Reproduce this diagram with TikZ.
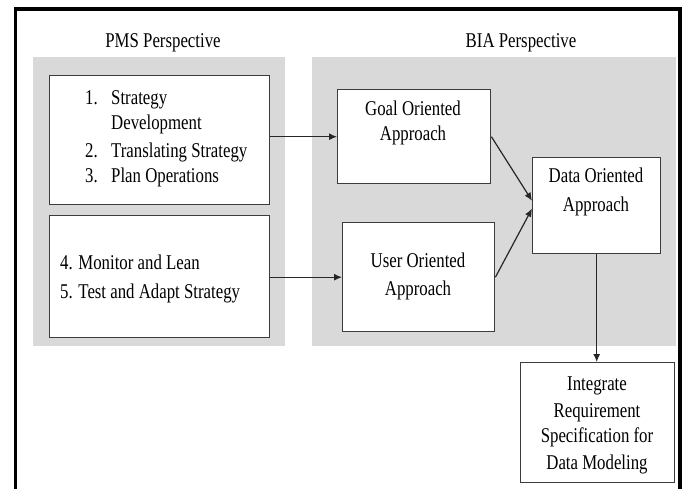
\documentclass[tikz,border=0pt]{standalone}
\usepackage{fontspec}
\setmainfont{Liberation Serif}[FakeStretch=0.8]
\usetikzlibrary{arrows.meta,calc}
\definecolor{panelgray}{RGB}{217,217,217}
\definecolor{boxline}{RGB}{60,60,60}
\tikzset{
  panel/.style={fill=panelgray, draw=none, anchor=north west, inner sep=0pt},
  box/.style={fill=white, draw=boxline, line width=1.4pt, anchor=north west, inner sep=0pt},
  txt/.style={font=\fontsize{21}{25}\selectfont, inner sep=0pt, text=black},
  conn/.style={draw=black!85, line width=1.2pt, -{Latex[length=8pt,width=7pt]}}
}
\begin{document}
\begin{tikzpicture}[x=1pt,y=-1pt]
\useasboundingbox (0,0) rectangle (682,488);
% outer frame
\draw[line width=3.5pt] (15.5,495) -- (15.5,9) -- (680,9) -- (680,495);
% titles
\node[txt, anchor=base] (pmst) at (163,47) {PMS Perspective};
\node[txt, anchor=base] (biat) at (521,47) {BIA Perspective};
% panels
\node[panel, minimum width=252pt, minimum height=289pt] (lp) at (33,57) {};
\node[panel, minimum width=364pt, minimum height=289pt] (rp) at (312,57) {};
% boxes
\node[box, minimum width=220pt, minimum height=129pt] (b1) at (49,75) {};
\node[box, minimum width=220pt, minimum height=122pt] (b2) at (49,215) {};
\node[box, minimum width=153pt, minimum height=94pt] (goal) at (337,89) {};
\node[box, minimum width=152pt, minimum height=109pt] (user) at (342,222) {};
\node[box, minimum width=128pt, minimum height=96pt] (data) at (532,157) {};
\node[box, minimum width=154pt, minimum height=120pt] (integ) at (520,362) {};
% box 1 text
\node[txt, anchor=base west] (n1) at (85,104) {1.};
\node[txt, anchor=base west] (t1a) at (111,104) {Strategy};
\node[txt, anchor=base west] (t1b) at (111,129) {Development};
\node[txt, anchor=base west] (n2) at (85,157) {2.};
\node[txt, anchor=base west] (t2) at (111,157) {Translating Strategy};
\node[txt, anchor=base west] (n3) at (85,182) {3.};
\node[txt, anchor=base west] (t3) at (111,182) {Plan Operations};
% box 2 text
\node[txt, anchor=base west] (t4) at (60,269) {4. Monitor and Lean};
\node[txt, anchor=base west] (t5) at (60,298) {5. Test and Adapt Strategy};
% right texts
\node[txt, anchor=base] (g1) at (413,115) {Goal Oriented};
\node[txt, anchor=base] (g2) at (413,140) {Approach};
\node[txt, anchor=base] (u1) at (418,267) {User Oriented};
\node[txt, anchor=base] (u2) at (418,295) {Approach};
\node[txt, anchor=base] (d1) at (596,182) {Data Oriented};
\node[txt, anchor=base] (d2) at (596,211) {Approach};
\node[txt, anchor=base] (i1) at (597,390) {Integrate};
\node[txt, anchor=base] (i2) at (597,417) {Requirement};
\node[txt, anchor=base] (i3) at (597,442) {Specification for};
\node[txt, anchor=base] (i4) at (597,469) {Data Modeling};
% connectors
\draw[conn] (b1.east |- goal.west) -- (goal.west);
\draw[conn] (b2.east |- user.west) -- (user.west);
\draw[conn] (goal.east) -- ($(data.west)+(0,-5)$);
\draw[conn] (user.east) -- ($(data.west)+(0,3)$);
\draw[conn] (data.south) -- (data.south |- integ.north);
\end{tikzpicture}
\end{document}
